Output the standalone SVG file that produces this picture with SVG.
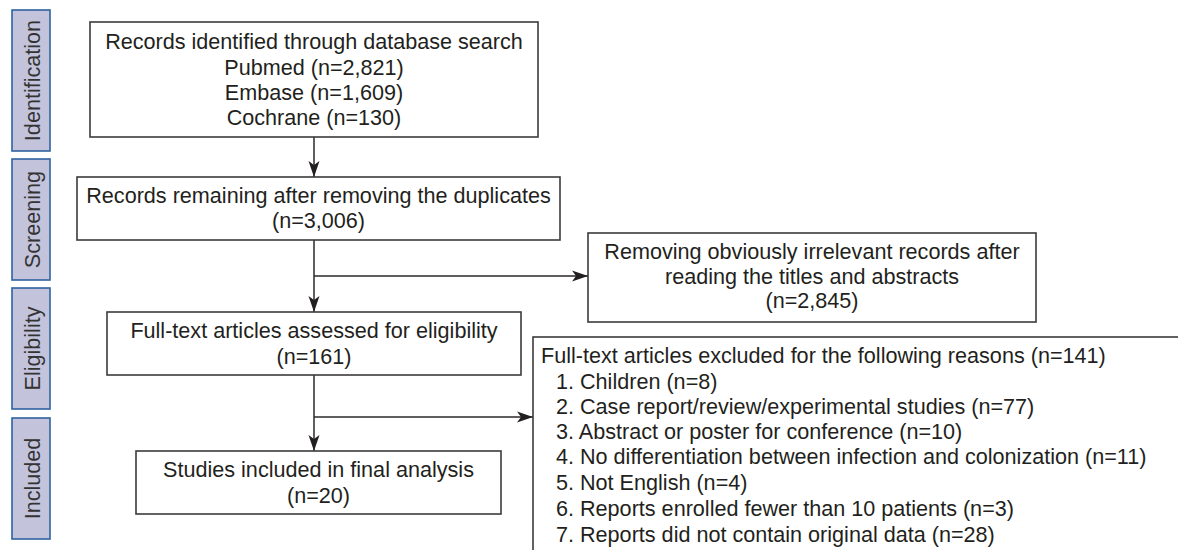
<svg xmlns="http://www.w3.org/2000/svg" width="1178" height="550" viewBox="0 0 1178 550">
<style>
  .bg{fill:#ffffff}
  .node{fill:#ffffff;stroke:#3c3a3a;stroke-width:1.6}
  .stage{fill:#c3c4dc;stroke:#2f639f;stroke-width:1.6}
  .t{font-family:"Liberation Sans",Arial,Helvetica,sans-serif;font-size:21.6px;fill:#231f20}
  .c{text-anchor:middle}
  .st{font-family:"Liberation Sans",Arial,Helvetica,sans-serif;font-size:21.6px;fill:#333333;text-anchor:middle}
  .line{fill:none;stroke:#2b2929;stroke-width:1.5}
</style>
<defs>
  <marker id="arr" viewBox="0 0 16 12" refX="16" refY="6" markerWidth="16" markerHeight="12" markerUnits="userSpaceOnUse" orient="auto">
    <path d="M0,0.5 L16,6 L0,11.5 L4,6 Z" fill="#231f20"/>
  </marker>
</defs>
<rect class="bg" x="0" y="0" width="1178" height="550"/>

<g id="stage-identification">
  <rect class="stage" x="12" y="10" width="38" height="141"/>
  <text class="st" transform="translate(40,80.5) rotate(-90)">Identification</text>
</g>
<g id="stage-screening">
  <rect class="stage" x="12" y="159" width="38" height="121"/>
  <text class="st" transform="translate(40,219.5) rotate(-90)">Screening</text>
</g>
<g id="stage-eligibility">
  <rect class="stage" x="12" y="288" width="38" height="121"/>
  <text class="st" transform="translate(40,348.5) rotate(-90)">Eligibility</text>
</g>
<g id="stage-included">
  <rect class="stage" x="12" y="418" width="38" height="121"/>
  <text class="st" transform="translate(40,478.5) rotate(-90)">Included</text>
</g>

<g id="connectors">
  <line class="line" x1="314" y1="137" x2="314" y2="177" marker-end="url(#arr)"/>
  <line class="line" x1="314" y1="240" x2="314" y2="312" marker-end="url(#arr)"/>
  <line class="line" x1="314" y1="276" x2="588" y2="276" marker-end="url(#arr)"/>
  <line class="line" x1="314" y1="375" x2="314" y2="451" marker-end="url(#arr)"/>
  <line class="line" x1="314" y1="417" x2="533" y2="417" marker-end="url(#arr)"/>
</g>

<g id="node-records-identified">
  <rect class="node" x="90" y="22" width="448" height="115"/>
  <text class="t c" x="314" y="49">Records identified through database search</text>
  <text class="t c" x="314" y="75">Pubmed (n=2,821)</text>
  <text class="t c" x="314" y="100">Embase (n=1,609)</text>
  <text class="t c" x="314" y="125">Cochrane (n=130)</text>
</g>

<g id="node-records-remaining">
  <rect class="node" x="77" y="177" width="483" height="63"/>
  <text class="t c" x="318.5" y="203">Records remaining after removing the duplicates</text>
  <text class="t c" x="318.5" y="228">(n=3,006)</text>
</g>

<g id="node-removing-irrelevant">
  <rect class="node" x="588" y="233" width="448" height="89"/>
  <text class="t c" x="812" y="259">Removing obviously irrelevant records after</text>
  <text class="t c" x="812" y="284">reading the titles and abstracts</text>
  <text class="t c" x="812" y="308">(n=2,845)</text>
</g>

<g id="node-full-text-assessed">
  <rect class="node" x="107" y="312" width="414" height="63"/>
  <text class="t c" x="314" y="338">Full-text articles assessed for eligibility</text>
  <text class="t c" x="314" y="364">(n=161)</text>
</g>

<g id="node-studies-included">
  <rect class="node" x="136" y="451" width="365" height="63"/>
  <text class="t c" x="318.5" y="477">Studies included in final analysis</text>
  <text class="t c" x="318.5" y="503">(n=20)</text>
</g>

<g id="node-excluded">
  <rect class="node" x="533" y="337" width="700" height="260"/>
  <text class="t" x="541" y="363">Full-text articles excluded for the following reasons (n=141)</text>
  <text class="t" x="556" y="389">1. Children (n=8)</text>
  <text class="t" x="556" y="414">2. Case report/review/experimental studies (n=77)</text>
  <text class="t" x="556" y="439">3. Abstract or poster for conference (n=10)</text>
  <text class="t" x="556" y="464">4. No differentiation between infection and colonization (n=11)</text>
  <text class="t" x="556" y="490">5. Not English (n=4)</text>
  <text class="t" x="556" y="516">6. Reports enrolled fewer than 10 patients (n=3)</text>
  <text class="t" x="556" y="542">7. Reports did not contain original data (n=28)</text>
</g>
</svg>
